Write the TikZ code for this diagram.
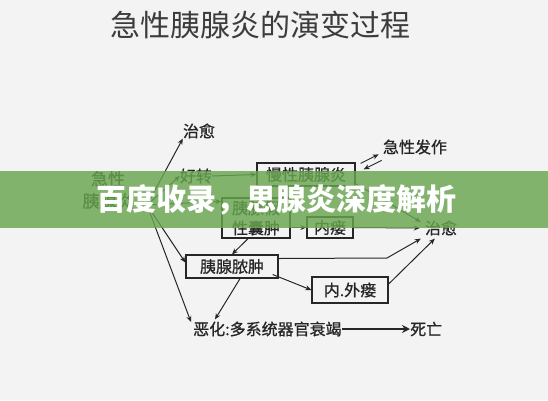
\documentclass[tikz,border=0pt]{standalone}
\usepackage{fontspec}
\setmainfont{Noto Sans CJK SC}
\newfontfamily\medcjk[FakeBold=0.9]{Noto Sans CJK SC}
\usetikzlibrary{arrows.meta,calc}
\definecolor{bg}{RGB}{243,243,243}
\definecolor{ink}{RGB}{38,38,38}
\definecolor{titleink}{RGB}{60,60,60}
\definecolor{banner}{RGB}{104,166,80}
\begin{document}
\begin{tikzpicture}[x=1pt,y=-1pt,
  lbl/.style={inner sep=0pt, text=ink, font=\medcjk\fontsize{16}{19}\selectfont},
  boxn/.style={draw=ink, line width=1.3pt, inner sep=0pt, text=ink, font=\medcjk\fontsize{16}{19}\selectfont, align=center},
  conn/.style={draw=ink, line width=1pt, -{Stealth[length=6pt,width=5pt]}},
  bigconn/.style={draw=ink, line width=2pt, -{Stealth[length=8pt,width=8pt]}},
]
\fill[bg] (0,0) rectangle (548,400);
\useasboundingbox (0,0) rectangle (548,400);

% title
\node[inner sep=0pt, text=titleink, font=\fontsize{30}{32}\selectfont] (title) at (260,25) {急性胰腺炎的演变过程};

% text labels
\node[lbl, align=center, font=\medcjk\fontsize{17}{22}\selectfont] (acp) at (108,190) {急性\\胰腺炎};
\node[lbl] (cure1) at (199,131) {治愈};
\node[lbl] (better) at (196,176) {好转};
\node[lbl] (acute) at (415,147) {急性发作};
\node[lbl] (cure2) at (441,228) {治愈};
\node[lbl, anchor=west] (worse) at (193,329) {恶化:多系统器官衰竭};
\node[lbl, anchor=west] (death) at (410,329) {死亡};

% boxes
\node[boxn, minimum width=98pt, minimum height=23pt] (chronic) at (306,174.5) {慢性胰腺炎};
\node[boxn, minimum width=68pt, minimum height=40pt, font=\medcjk\fontsize{16}{20}\selectfont] (pseudo) at (256,218) {胰腺假\\性囊肿};
\node[boxn, minimum width=46pt, minimum height=21pt] (inner) at (330,227.5) {内瘘};
\node[boxn, minimum width=92pt, minimum height=23pt] (abscess) at (232,266.5) {胰腺脓肿};
\node[boxn, minimum width=76pt, minimum height=26pt] (fistula) at (350,290) {内.外瘘};

% fan from acute pancreatitis
\coordinate (src) at (147,205);
\draw[conn] (src) -- (cure1.south west);
\draw[conn] (src) -- (better.west);
\draw[conn] (src) -- ($(pseudo.north west)+(0,4)$);
\draw[conn] (src) -- ($(abscess.west)+(0,-4)$);
\draw[conn] (src) -- ($(worse.west)+(-2,-7)$);

% other connectors
\draw[conn] (better.east) -- (chronic.west);
\draw[conn] ($(chronic.north east)+(5,1)$) -- ($(chronic.north east)+(23,-8)$);
\draw[conn] ($(chronic.north east)+(26,-2)$) -- ($(chronic.north east)+(8,7)$);
\draw[conn] ($(chronic.east)+(-2,8)$) -- ($(cure2.west)+(-4,-6)$);
\draw[conn] (pseudo.east |- inner.west) -- (inner.west);
\draw[conn] (inner.east) -- ($(cure2.west)+(-5,0)$);
\draw[conn] ($(pseudo.south)+(-8,0)$) -- ($(abscess.north)+(0,0)$);
\draw[conn] ($(abscess.east)+(0,-8)$) -- (387,258) -- ($(cure2.south west)+(-4,3)$);
\draw[conn] ($(abscess.east)+(-6,8)$) -- ($(fistula.west)+(0,0)$);
\draw[conn] ($(fistula.east)+(0,-6)$) -- ($(cure2.south west)+(10,3)$);
\draw[conn] ($(abscess.south)+(8,0)$) -- ($(worse.north west)+(22,-2)$);
\draw[bigconn] (worse.east) -- (death.west);

% overlay banner
\fill[banner, opacity=0.82] (0,171) rectangle (548,228);
\node[inner sep=0pt, text=white, font=\bfseries\fontsize{30}{32}\selectfont] (banner) at (276,200) {百度收录，思腺炎深度解析};
\end{tikzpicture}
\end{document}
